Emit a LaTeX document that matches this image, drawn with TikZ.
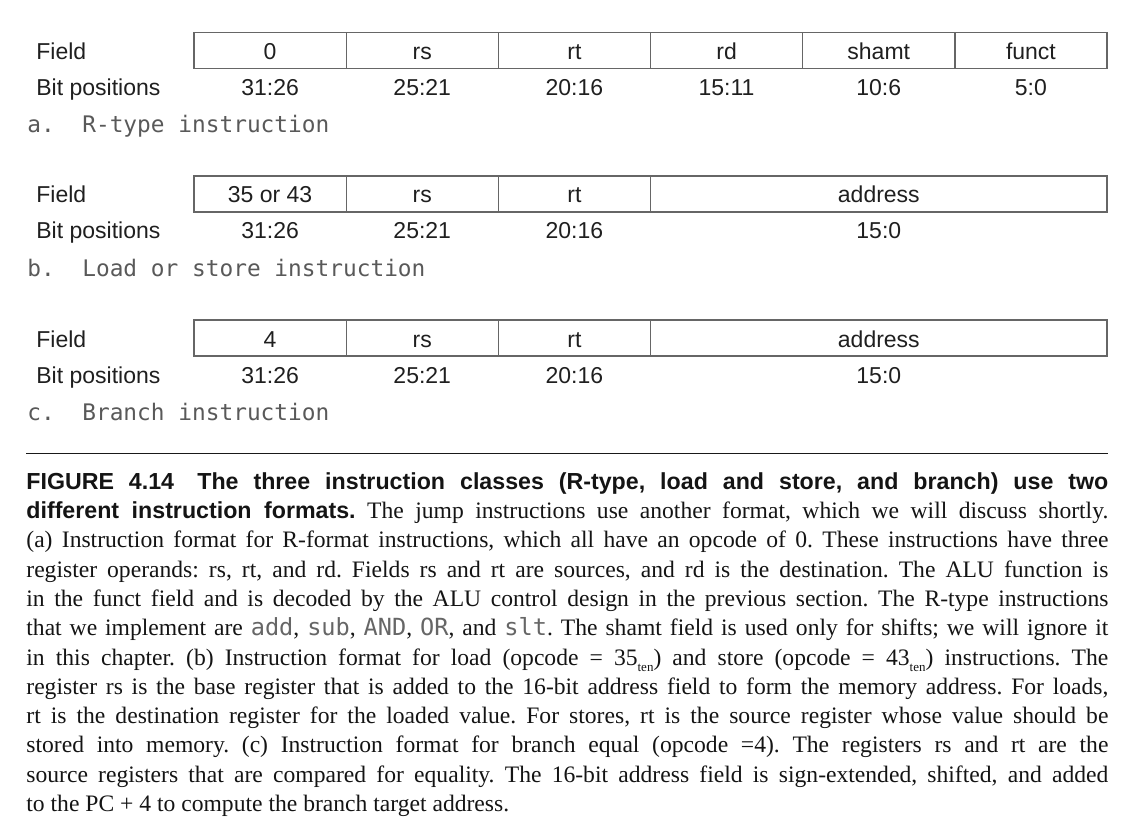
\documentclass[tikz,border=0pt]{standalone}
\usepackage{fontspec}
\setmainfont{Liberation Serif}
\newfontfamily\tabfont{Liberation Sans}
\newfontfamily\labfont{DejaVu Sans Mono}
\newcommand\headfont{\tabfont\bfseries\fontsize{11.6}{14.65}\selectfont}
\newcommand\code[1]{{\labfont\color{black!60}#1}}
\newcommand\tens{\raisebox{-3pt}{\fontsize{6.5}{7}\selectfont ten}}

\begin{document}
\begin{tikzpicture}[x=0.5pt,y=-0.5pt,
		cell/.style={draw=black!60, line width=0.65pt, minimum width=76.08pt, minimum height=18pt, inner sep=0pt, text height=9pt, text depth=0pt, text=black!88, font={\tabfont\fontsize{11.5}{13}\selectfont}},
		widecell/.style={cell, minimum width=228.25pt},
		bits/.style={inner sep=0pt, text height=9pt, text depth=0pt, text=black!88, font={\tabfont\fontsize{11.5}{13}\selectfont}},
		rowname/.style={bits, anchor=west},
		sublabel/.style={anchor=base west, inner sep=0pt, text=black!65, font={\labfont\fontsize{11.4}{13}\selectfont}},
		caption/.style={anchor=north west, inner sep=0pt, text width=541pt, align=justify, text=black!92, font={\frenchspacing\fontsize{11.8}{14.65}\selectfont}}]
		%% The page is 1140 x 834 units, one unit per pixel of the reference
		\useasboundingbox (0,0) rectangle (1140,834);

		%% a. R-type: six fields of equal width
		\node[rowname] (fa) at (36,50.5) {Field};
		\node[cell] (a0) at (270.08,50.5) {0};
		\node[cell] (a1) at (422.25,50.5) {rs};
		\node[cell] (a2) at (574.42,50.5) {rt};
		\node[cell] (a3) at (726.58,50.5) {rd};
		\node[cell] (a4) at (878.75,50.5) {shamt};
		\node[cell] (a5) at (1030.92,50.5) {funct};
		\node[rowname] (pa) at (36,86.5) {Bit positions};
		\node[bits] (ba0) at (270.08,86.5) {31:26};
		\node[bits] (ba1) at (422.25,86.5) {25:21};
		\node[bits] (ba2) at (574.42,86.5) {20:16};
		\node[bits] (ba3) at (726.58,86.5) {15:11};
		\node[bits] (ba4) at (878.75,86.5) {10:6};
		\node[bits] (ba5) at (1030.92,86.5) {5:0};
		\node[sublabel] (la) at (27,133) {a.\ \ R-type instruction};

		%% b. load or store: the last three fields make one address
		\node[rowname] (fb) at (36,194) {Field};
		\node[cell] (b0) at (270.08,194) {35 or 43};
		\node[cell] (b1) at (422.25,194) {rs};
		\node[cell] (b2) at (574.42,194) {rt};
		\node[widecell] (b3) at (878.83,194) {address};
		\node[rowname] (pb) at (36,230) {Bit positions};
		\node[bits] (bb0) at (270.08,230) {31:26};
		\node[bits] (bb1) at (422.25,230) {25:21};
		\node[bits] (bb2) at (574.42,230) {20:16};
		\node[bits] (bb3) at (878.83,230) {15:0};
		\node[sublabel] (lb) at (27,276.5) {b.\ \ Load or store instruction};

		%% c. branch
		\node[rowname] (fc) at (36,338) {Field};
		\node[cell] (c0) at (270.08,338) {4};
		\node[cell] (c1) at (422.25,338) {rs};
		\node[cell] (c2) at (574.42,338) {rt};
		\node[widecell] (c3) at (878.83,338) {address};
		\node[rowname] (pc) at (36,374) {Bit positions};
		\node[bits] (bc0) at (270.08,374) {31:26};
		\node[bits] (bc1) at (422.25,374) {25:21};
		\node[bits] (bc2) at (574.42,374) {20:16};
		\node[bits] (bc3) at (878.83,374) {15:0};
		\node[sublabel] (lc) at (27,420.5) {c.\ \ Branch instruction};

		%% rule above the caption
		\draw[line width=0.8pt, black!90] (26,453.3) -- (1108,453.3);

		\node[caption] (cap) at (26,472) {%
			{\headfont FIGURE 4.14\quad The three instruction classes (R-type, load and store, and branch) use two\linebreak
			different instruction formats.} The jump instructions use another format, which we will discuss shortly.\linebreak
			(a) Instruction format for R-format instructions, which all have an opcode of 0. These instructions have three\linebreak
			register operands: rs, rt, and rd. Fields rs and rt are sources, and rd is the destination. The ALU function is\linebreak
			in the funct field and is decoded by the ALU control design in the previous section. The R-type instructions\linebreak
			that we implement are \code{add}, \code{sub}, \code{AND}, \code{OR}, and \code{slt}. The shamt field is used only for shifts; we will ignore it\linebreak
			in this chapter. (b) Instruction format for load (opcode = 35\tens) and store (opcode = 43\tens) instructions. The\linebreak
			register rs is the base register that is added to the 16-bit address field to form the memory address. For loads,\linebreak
			rt is the destination register for the loaded value. For stores, rt is the source register whose value should be\linebreak
			stored into memory. (c) Instruction format for branch equal (opcode =4). The registers rs and rt are the\linebreak
			source registers that are compared for equality. The 16-bit address field is sign-extended, shifted, and added\linebreak
			to the PC + 4 to compute the branch target address.};
		%\draw[help lines] (0,0) grid[step=50] (1140,834);
	\end{tikzpicture}
\end{document}
